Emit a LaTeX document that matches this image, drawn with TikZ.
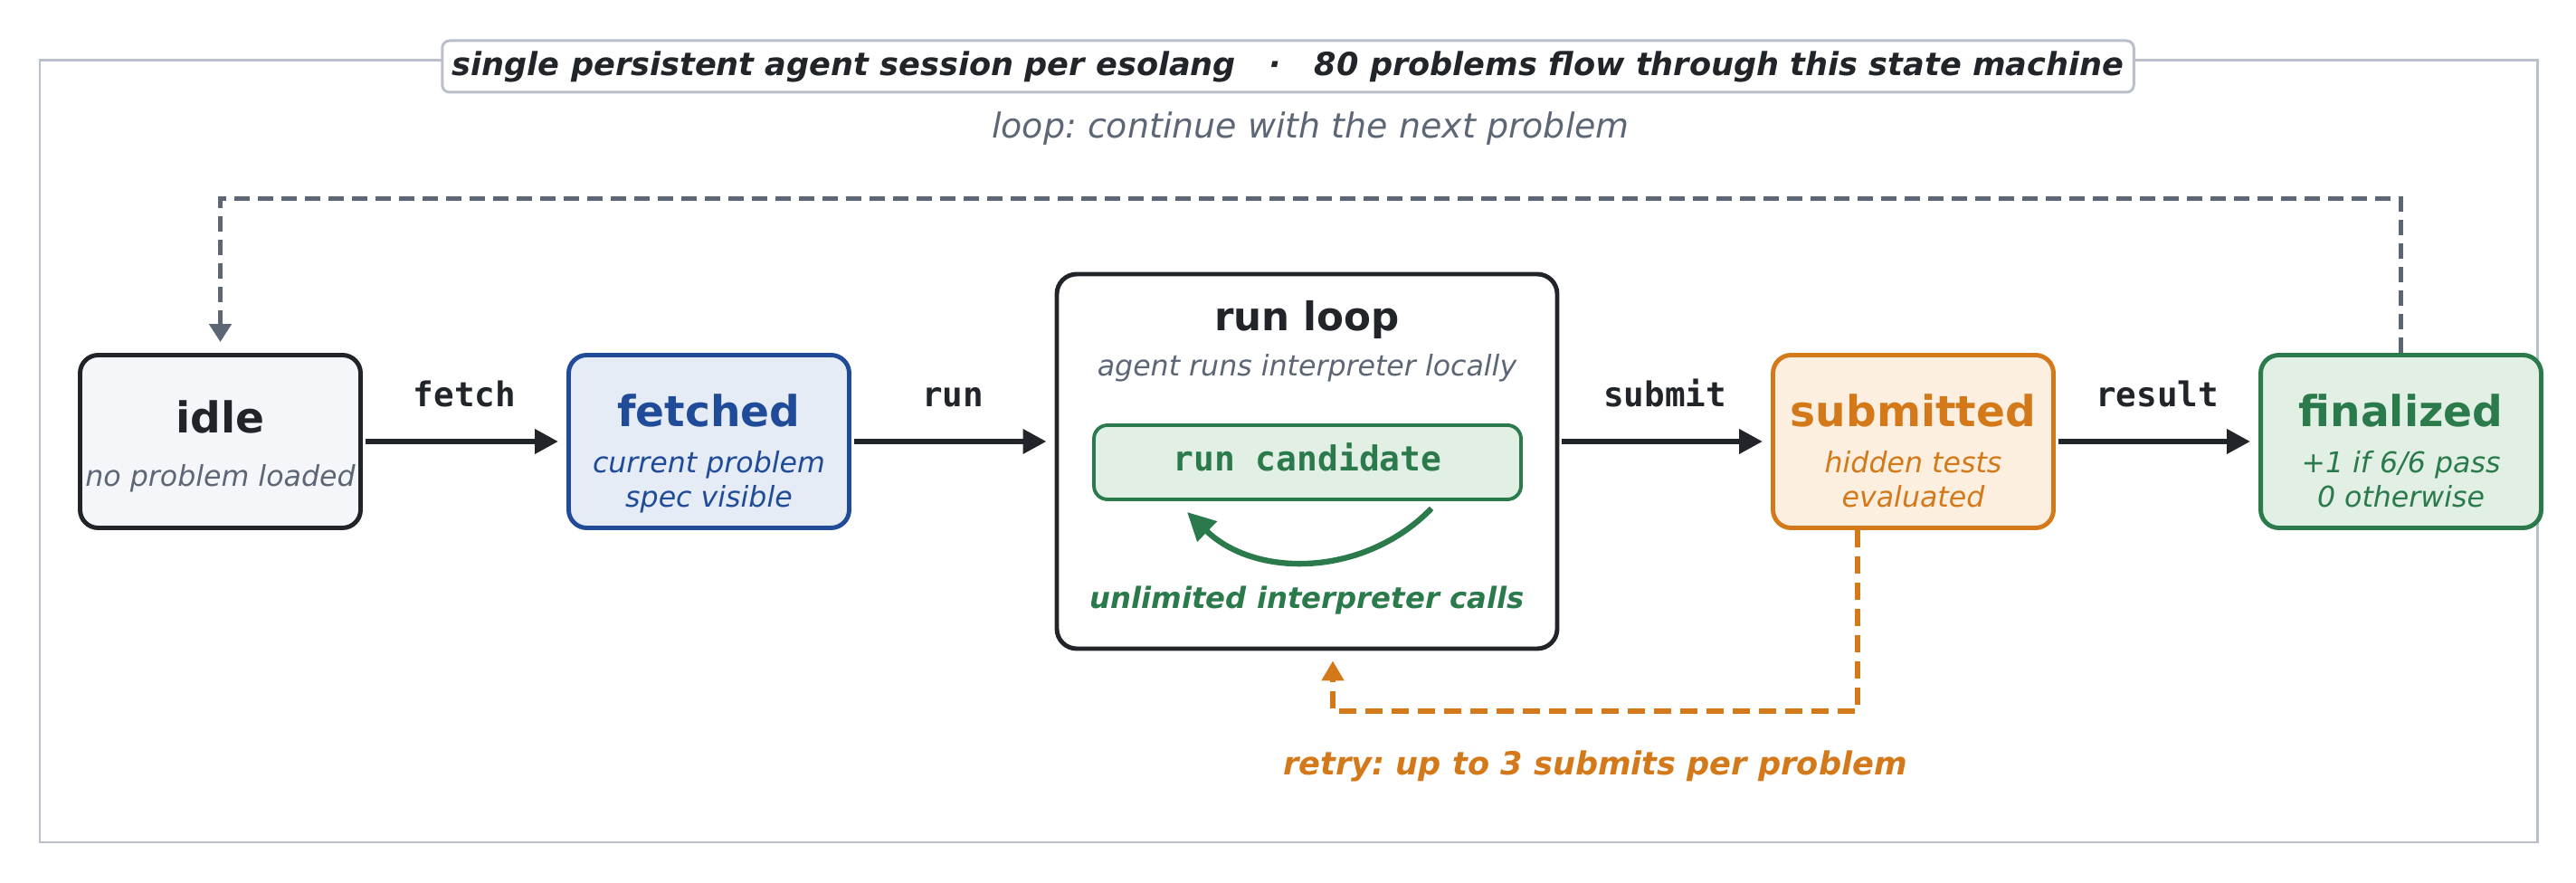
\documentclass[tikz,border=0pt]{standalone}
\usepackage{fontspec}
\setmainfont{DejaVu Sans}
\setmonofont{DejaVu Sans Mono}
\usetikzlibrary{arrows.meta}
\frenchspacing
\definecolor{ink}{HTML}{212529}
\definecolor{slate}{HTML}{5C6675}
\definecolor{framegray}{HTML}{B9C0C9}
\definecolor{idlefill}{HTML}{F5F6FA}
\definecolor{fetchblue}{HTML}{1F4B99}
\definecolor{fetchfill}{HTML}{E5ECF6}
\definecolor{suborange}{HTML}{D4791A}
\definecolor{subfill}{HTML}{FCEFDF}
\definecolor{fingreen}{HTML}{2B7A4B}
\definecolor{finfill}{HTML}{E1EFE5}

\begin{document}
\begin{tikzpicture}[line width=1.4pt,
  statebox/.style={draw, rounded corners=0.2cm, minimum width=3.1cm, minimum height=1.91cm, inner sep=0pt},
  stname/.style={anchor=base, font=\fontsize{13.4}{16}\selectfont\bfseries},
  stsub/.style={anchor=base, font=\fontsize{9}{11}\selectfont\itshape},
  cmd/.style={anchor=base, text=ink, font=\fontsize{10.7}{13}\selectfont\ttfamily\bfseries},
  flow/.style={ink, line width=1.9pt, -{Triangle[length=0.26cm, width=0.26cm]}, shorten <=0.03cm, shorten >=0.09cm},
  back/.style={slate, line width=1.45pt, dash pattern=on 0.17cm off 0.09cm, -{Triangle[length=0.2cm, width=0.24cm]}, shorten >=0.12cm},
  retry/.style={suborange, line width=1.45pt, dash pattern=on 0.19cm off 0.1cm, -{Triangle[length=0.22cm, width=0.24cm]}, shorten >=0.11cm}]
  \useasboundingbox (0,0) rectangle (28.47,9.76);

  % outer frame and banner
  \draw[framegray, line width=0.85pt] (0.44,0.45) rectangle (28.04,9.09);
  \node[draw=framegray, fill=white, line width=0.85pt, rounded corners=0.08cm, inner xsep=0.11cm, inner ysep=0pt, minimum height=0.57cm, text=ink, font=\fontsize{10}{12}\selectfont\bfseries\itshape] (banner) at (14.235,9.025) {single persistent agent session per esolang\ \ \ ·\ \ \ 80 problems flow through this state machine};

  % states
  \node[statebox, draw=ink, fill=idlefill] (idle) at (2.435,4.88) {};
  \node[stname, text=ink] (idle-t) at ([yshift=0.095cm]idle.center) {idle};
  \node[stsub, text=slate] (idle-s) at ([yshift=-0.495cm]idle.center) {no problem loaded};

  \node[statebox, draw=fetchblue, fill=fetchfill] (fetched) at (7.835,4.88) {};
  \node[stname, text=fetchblue] (fetched-t) at ([yshift=0.165cm]fetched.center) {fetched};
  \node[stsub, text=fetchblue] (fetched-s1) at ([yshift=-0.345cm]fetched.center) {current problem};
  \node[stsub, text=fetchblue] (fetched-s2) at ([yshift=-0.725cm]fetched.center) {spec visible};

  \node[draw=ink, fill=white, rounded corners=0.22cm, minimum width=5.53cm, minimum height=4.14cm] (runloop) at (14.445,4.66) {};
  \node[anchor=base, text=ink, font=\fontsize{12.4}{15}\selectfont\bfseries] (runloop-t) at (14.445,6.1) {run loop};
  \node[stsub, text=slate] (runloop-s) at (14.445,5.6) {agent runs interpreter locally};
  \node[draw=fingreen, fill=finfill, line width=1.1pt, rounded corners=0.15cm, minimum width=4.72cm, minimum height=0.82cm, text depth=0.12cm, text=fingreen, font=\fontsize{10.8}{13}\selectfont\ttfamily\bfseries] (cand) at (14.45,4.65) {run candidate};
  \node[anchor=base, text=fingreen, font=\fontsize{9.2}{11}\selectfont\bfseries\itshape] (calls) at (14.445,3.03) {unlimited interpreter calls};
  \coordinate (spin-a) at (15.82,4.14);
  \coordinate (spin-b) at (13.12,4.10);
  \draw[fingreen, line width=1.8pt, -{Triangle[length=0.31cm, width=0.3cm]}] (spin-a) to[bend left=45] (spin-b);

  \node[statebox, draw=suborange, fill=subfill] (subm) at (21.145,4.88) {};
  \node[stname, text=suborange] (subm-t) at ([yshift=0.165cm]subm.center) {submitted};
  \node[stsub, text=suborange] (subm-s1) at ([yshift=-0.345cm]subm.center) {hidden tests};
  \node[stsub, text=suborange] (subm-s2) at ([yshift=-0.725cm]subm.center) {evaluated};

  \node[statebox, draw=fingreen, fill=finfill] (final) at (26.535,4.88) {};
  \node[stname, text=fingreen] (final-t) at ([yshift=0.165cm]final.center) {finalized};
  \node[stsub, text=fingreen] (final-s1) at ([yshift=-0.345cm]final.center) {+1 if 6/6 pass};
  \node[stsub, text=fingreen] (final-s2) at ([yshift=-0.725cm]final.center) {0 otherwise};

  % transitions
  \draw[flow] (idle.east) -- (fetched.west) node[cmd, midway, yshift=0.38cm] (lbl-fetch) {fetch};
  \draw[flow] (fetched.east) -- (fetched.east -| runloop.west) node[cmd, midway, yshift=0.38cm] (lbl-run) {run};
  \draw[flow] (runloop.east |- subm.west) -- (subm.west) node[cmd, midway, yshift=0.38cm] (lbl-submit) {submit};
  \draw[flow] (subm.east) -- (final.west) node[cmd, midway, yshift=0.38cm] (lbl-result) {result};

  % loop back and retry
  \draw[back] (final.north) -- ++(0,1.705) -| (idle.north);
  \node[anchor=base, text=slate, font=\fontsize{10.8}{13}\selectfont\itshape] (loop-lbl) at (14.485,8.23) {loop: continue with the next problem};
  \draw[retry] ([xshift=-0.615cm]subm.south) -- ++(0,-2.0) -| ([xshift=0.285cm]runloop.south);
  \node[anchor=base, text=suborange, font=\fontsize{10}{12}\selectfont\bfseries\itshape] (retry-lbl) at (17.63,1.19) {retry: up to 3 submits per problem};
\end{tikzpicture}
\end{document}
